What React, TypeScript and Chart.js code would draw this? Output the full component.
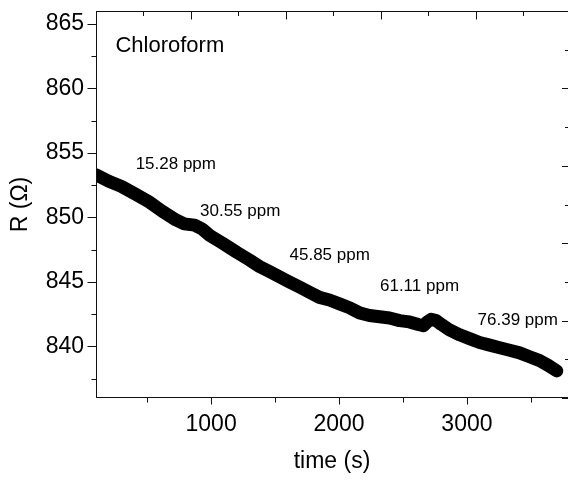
import React, { useEffect, useRef } from "react";
import { Chart, registerables } from "chart.js";

Chart.register(...registerables);

// ---- data ----
const timeS = [
  100, 200, 300, 410, 515, 615, 725, 790, 870, 930, 990, 1090, 1200, 1300, 1378,
  1456, 1534, 1612, 1691, 1769, 1847, 1925, 2004, 2082, 2160, 2238, 2317, 2395,
  2473, 2551, 2620, 2660, 2690, 2720, 2760, 2800, 2860, 2943, 3020, 3099, 3178,
  3256, 3334, 3412, 3490, 3569, 3640, 3702,
];
const resistance = [
  853.3, 852.8, 852.4, 851.8, 851.2, 850.5, 849.8, 849.5, 849.4, 849.1, 848.6,
  848.0, 847.3, 846.7, 846.2, 845.8, 845.4, 845.0, 844.6, 844.2, 843.8, 843.6,
  843.3, 843.0, 842.6, 842.4, 842.3, 842.2, 842.0, 841.9, 841.7, 841.6, 841.9,
  842.1, 842.0, 841.7, 841.3, 840.9, 840.6, 840.3, 840.1, 839.9, 839.7, 839.5,
  839.2, 838.9, 838.5, 838.1,
];

const xTickValues = [1000, 2000, 3000];
const xMinorValues = [500, 1500, 2500, 3500];
const yTickValues = [840, 845, 850, 855, 860, 865];
const yMinorValues = [837.5, 842.5, 847.5, 852.5, 857.5, 862.5];
// mirror axes (top/right) have their own independent tick spacing
const topTickValues = [0, 0.5, 1, 1.5, 2, 2.5, 3, 3.5, 4, 4.5];
const rightTickValues = [0, 1, 2, 3, 4, 5, 6, 7, 8, 9, 10];

const annoText = ["Chloroform", "15.28 ppm", "30.55 ppm", "45.85 ppm", "61.11 ppm", "76.39 ppm"];
const annoTime = [252, 410, 913, 1613, 2320, 3083];
const annoR = [863.3, 854.1, 850.44, 847.09, 844.63, 842.05];

const FONT = "'Liberation Sans', Arial, sans-serif";

const framePlugin = {
  id: "frame",
  afterDatasetsDraw(chart: any) {
    const { ctx, chartArea: a, scales } = chart;
    const x = scales.x, y = scales.y, x2 = scales.x2, y2 = scales.y2;
    ctx.save();
    ctx.strokeStyle = "#111";
    ctx.lineWidth = 1;
    const L = Math.round(a.left) + 0.5;
    const B = Math.round(a.bottom) - 0.5;
    const T = Math.round(a.top) + 0.5;
    const R = Math.round(a.right);
    ctx.beginPath();
    ctx.moveTo(L, T); ctx.lineTo(L, B + 0.5);
    ctx.moveTo(L - 0.5, B); ctx.lineTo(R, B);
    ctx.moveTo(L - 0.5, T); ctx.lineTo(R, T);
    // left ticks (outward)
    yTickValues.forEach((v) => {
      const p = Math.round(y.getPixelForValue(v)) + 0.5;
      ctx.moveTo(L - 9, p); ctx.lineTo(L, p);
    });
    yMinorValues.forEach((v) => {
      const p = Math.round(y.getPixelForValue(v)) + 0.5;
      ctx.moveTo(L - 5, p); ctx.lineTo(L, p);
    });
    // bottom ticks (outward)
    xTickValues.forEach((v) => {
      const p = Math.round(x.getPixelForValue(v)) + 0.5;
      ctx.moveTo(p, B); ctx.lineTo(p, B + 7);
    });
    xMinorValues.forEach((v) => {
      const p = Math.round(x.getPixelForValue(v)) + 0.5;
      ctx.moveTo(p, B); ctx.lineTo(p, B + 5);
    });
    // top ticks (inward)
    topTickValues.forEach((v) => {
      const p = Math.round(x2.getPixelForValue(v)) + 0.5;
      const len = Number.isInteger(v) ? 8 : 4.5;
      ctx.moveTo(p, T); ctx.lineTo(p, T + len);
    });
    // right ticks (inward)
    rightTickValues.forEach((v) => {
      const p = Math.round(y2.getPixelForValue(v)) + 0.5;
      const len = v % 2 === 0 ? 6 : 3;
      ctx.moveTo(R - len, p); ctx.lineTo(R, p);
    });
    ctx.stroke();

    // annotations
    ctx.fillStyle = "#000";
    ctx.textAlign = "left";
    ctx.textBaseline = "middle";
    annoText.forEach((t, i) => {
      ctx.font = `${i === 0 ? 22 : 17}px ${FONT}`;
      ctx.fillText(t, x.getPixelForValue(annoTime[i]), y.getPixelForValue(annoR[i]));
    });
    ctx.restore();
  },
};

export default function App() {
  const ref = useRef<HTMLCanvasElement | null>(null);
  useEffect(() => {
    const canvas = ref.current;
    if (!canvas) return;
    Chart.defaults.font.family = FONT;
    const chart = new Chart(canvas, {
      type: "line",
      data: {
        datasets: [
          {
            data: timeS.map((t, i) => ({ x: t, y: resistance[i] })),
            borderColor: "#000",
            backgroundColor: "#000",
            borderWidth: 13,
            borderJoinStyle: "round",
            borderCapStyle: "round",
            pointRadius: 0,
            tension: 0,
            clip: 0,
            xAxisID: "x",
            yAxisID: "y",
          } as any,
        ],
      },
      options: {
        responsive: false,
        devicePixelRatio: 1,
        animation: false,
        layout: { padding: { top: 11, right: 1, left: 0, bottom: 0 } },
        plugins: { legend: { display: false }, tooltip: { enabled: false } },
        scales: {
          x: {
            type: "linear",
            position: "bottom",
            min: 100,
            max: 3790,
            afterBuildTicks: (s: any) => {
              s.ticks = xTickValues.map((v) => ({ value: v }));
            },
            afterFit: (s: any) => {
              s.height = 82;
              s.paddingLeft = 0;
              s.paddingRight = 0;
            },
            grid: { display: false, drawTicks: false },
            border: { display: false },
            ticks: {
              padding: 13,
              color: "#000",
              font: { size: 23, family: FONT },
              maxRotation: 0,
              autoSkip: false,
              callback: (v: any) => String(v),
            },
            title: {
              display: true,
              text: "time (s)",
              color: "#000",
              font: { size: 23, family: FONT },
              padding: { top: 0, bottom: 5 },
            },
          },
          y: {
            type: "linear",
            position: "left",
            min: 836,
            max: 866,
            afterBuildTicks: (s: any) => {
              s.ticks = yTickValues.map((v) => ({ value: v }));
            },
            afterFit: (s: any) => {
              s.width = 96;
              s.paddingTop = 0;
              s.paddingBottom = 0;
            },
            grid: { display: false, drawTicks: false },
            border: { display: false },
            ticks: {
              padding: 12,
              color: "#000",
              font: { size: 23, family: FONT },
              autoSkip: false,
              callback: (v: any) => String(v),
            },
            title: {
              display: true,
              text: "R (Ω)",
              color: "#000",
              font: { size: 23, family: FONT },
              padding: { top: 7, bottom: 0 },
            },
          },
          x2: {
            type: "linear",
            position: "top",
            min: 0,
            max: 4.97,
            grid: { display: false, drawTicks: false },
            border: { display: false },
            ticks: { display: false },
            afterFit: (s: any) => {
              s.height = 0;
              s.paddingLeft = 0;
              s.paddingRight = 0;
            },
          },
          y2: {
            type: "linear",
            position: "right",
            min: 0,
            max: 10,
            grid: { display: false, drawTicks: false },
            border: { display: false },
            ticks: { display: false },
            afterFit: (s: any) => {
              s.width = 0;
              s.paddingTop = 0;
              s.paddingBottom = 0;
            },
          },
        },
      },
      plugins: [framePlugin],
    } as any);
    return () => chart.destroy();
  }, []);
  return (
    <div style={{ position: "fixed", left: 0, top: 0, width: 569, height: 480, background: "#fff" }}>
      <canvas ref={ref} width={569} height={480} style={{ display: "block" }} />
    </div>
  );
}
